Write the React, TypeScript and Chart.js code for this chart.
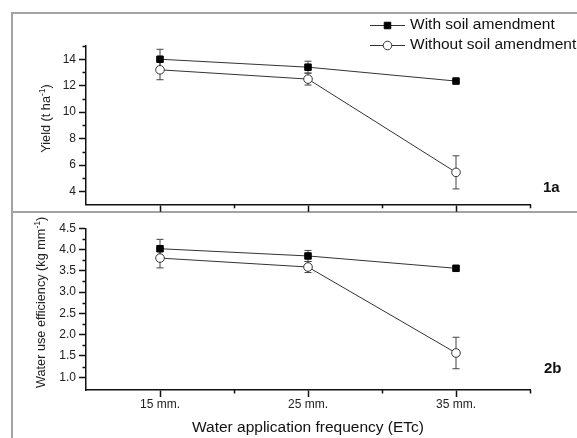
import React, { useEffect, useRef } from 'react';
import { Chart, registerables } from 'chart.js';

Chart.register(...registerables);

// ---------- data ----------
const categories = ['15 mm.', '25 mm.', '35 mm.'];
const xPositions = [15, 25, 35];
const xMinorTicks = [20, 30, 40];
const seriesNames = ['With soil amendment', 'Without soil amendment'];

const yieldWith = [14.0, 13.4, 12.35];
const yieldWithErr = [0.75, 0.45, 0];
const yieldWithout = [13.2, 12.5, 5.45];
const yieldWithoutErr = [0.75, 0.45, 1.25];
const yieldTicks = [4, 6, 8, 10, 12, 14];
const yieldTickLabels = ['4', '6', '8', '10', '12', '14'];
const yieldMinorTicks = [5, 7, 9, 11, 13, 15];

const wueWith = [4.02, 3.85, 3.56];
const wueWithErr = [0.22, 0.13, 0];
const wueWithout = [3.8, 3.59, 1.57];
const wueWithoutErr = [0.23, 0.13, 0.37];
const wueTicks = [1.0, 1.5, 2.0, 2.5, 3.0, 3.5, 4.0, 4.5];
const wueTickLabels = ['1.0', '1.5', '2.0', '2.5', '3.0', '3.5', '4.0', '4.5'];
const wueMinorTicks = [1.25, 1.75, 2.25, 2.75, 3.25, 3.75, 4.25];

const xTitle = 'Water application frequency (ETc)';
const yieldTitle = ['Yield (t ha', '-1', ')'];
const wueTitle = ['Water use efficiency (kg mm', '-1', ')'];

const FONT = "Arial, 'Liberation Sans', sans-serif";
const AXIS = '#111';
const LINE = '#333';
const FRAME = '#a3a3a3';

type PanelProps = {
  top: number;
  height: number;
  withVals: number[];
  withErr: number[];
  withoutVals: number[];
  withoutErr: number[];
  yMin: number;
  yMax: number;
  yTicks: number[];
  yTickLabels: string[];
  yMinor: number[];
  padTop: number;
  xHeight: number;
  showXLabels: boolean;
  yTitle: string[];
  yTitleX: number;
  yTitleY: number;
  panelLabel: string;
  panelLabelX: number;
  panelLabelY: number;
  showLegend: boolean;
};

function drawMarker(ctx: CanvasRenderingContext2D, ds: any, x: number, y: number) {
  ctx.save();
  ctx.lineWidth = ds.pointBorderWidth;
  ctx.strokeStyle = ds.pointBorderColor;
  ctx.fillStyle = ds.pointBackgroundColor;
  ctx.beginPath();
  if (ds.pointStyle === 'rect') {
    const s = ds.pointRadius * Math.SQRT1_2;
    ctx.rect(x - s, y - s, 2 * s, 2 * s);
  } else {
    ctx.arc(x, y, ds.pointRadius, 0, Math.PI * 2);
  }
  ctx.fill();
  ctx.stroke();
  ctx.restore();
}

function Panel(p: PanelProps) {
  const ref = useRef<HTMLCanvasElement>(null);
  useEffect(() => {
    if (!ref.current) return;

    const errorBars = {
      id: 'errorBars',
      beforeDatasetsDraw(chart: any) {
        const ctx = chart.ctx;
        const xs = chart.scales.x;
        const ys = chart.scales.y;
        ctx.save();
        ctx.strokeStyle = '#444';
        ctx.lineWidth = 1;
        chart.data.datasets.forEach((ds: any) => {
          ds.data.forEach((pt: any, i: number) => {
            const e = ds.errors[i];
            if (!e) return;
            const x = xs.getPixelForValue(pt.x);
            const y1 = ys.getPixelForValue(pt.y + e);
            const y2 = ys.getPixelForValue(pt.y - e);
            const cap = 3.5;
            ctx.beginPath();
            ctx.moveTo(x, y1);
            ctx.lineTo(x, y2);
            ctx.moveTo(x - cap, y1);
            ctx.lineTo(x + cap, y1);
            ctx.moveTo(x - cap, y2);
            ctx.lineTo(x + cap, y2);
            ctx.stroke();
          });
        });
        ctx.restore();
      },
    };

    const decorations = {
      id: 'decorations',
      afterDraw(chart: any) {
        const ctx = chart.ctx;
        const xs = chart.scales.x;
        const ys = chart.scales.y;
        const area = chart.chartArea;
        // minor ticks
        ctx.save();
        ctx.strokeStyle = AXIS;
        ctx.lineWidth = 1.5;
        ctx.beginPath();
        xMinorTicks.forEach((v) => {
          const x = Math.round(xs.getPixelForValue(v)) + 0.5;
          ctx.moveTo(x, area.bottom);
          ctx.lineTo(x, area.bottom + 3.5);
        });
        p.yMinor.forEach((v) => {
          const y = Math.round(ys.getPixelForValue(v)) + 0.5;
          ctx.moveTo(area.left, y);
          ctx.lineTo(area.left - 3.5, y);
        });
        ctx.stroke();
        ctx.restore();

        // y title with superscript
        ctx.save();
        ctx.fillStyle = '#222';
        const mainFont = `12.7px ${FONT}`;
        const supFont = `8.5px ${FONT}`;
        ctx.font = mainFont;
        const w0 = ctx.measureText(p.yTitle[0]).width;
        const w2 = ctx.measureText(p.yTitle[2]).width;
        ctx.font = supFont;
        const w1 = ctx.measureText(p.yTitle[1]).width;
        const total = w0 + w1 + w2;
        ctx.translate(p.yTitleX, p.yTitleY);
        ctx.rotate(-Math.PI / 2);
        ctx.textBaseline = 'alphabetic';
        ctx.textAlign = 'left';
        let cx = -total / 2;
        ctx.font = mainFont;
        ctx.fillText(p.yTitle[0], cx, 0);
        cx += w0;
        ctx.font = supFont;
        ctx.fillText(p.yTitle[1], cx, -5);
        cx += w1;
        ctx.font = mainFont;
        ctx.fillText(p.yTitle[2], cx, 0);
        ctx.restore();

        // panel label
        ctx.save();
        ctx.fillStyle = '#111';
        ctx.font = `bold 15px ${FONT}`;
        ctx.textBaseline = 'middle';
        ctx.textAlign = 'left';
        ctx.fillText(p.panelLabel, p.panelLabelX, p.panelLabelY);
        ctx.restore();

        // legend
        if (p.showLegend) {
          const rows = [25, 45];
          chart.data.datasets.forEach((ds: any, i: number) => {
            const y = rows[i];
            ctx.save();
            ctx.strokeStyle = ds.borderColor;
            ctx.lineWidth = 1;
            ctx.beginPath();
            ctx.moveTo(370, y + 0.5);
            ctx.lineTo(405, y + 0.5);
            ctx.stroke();
            ctx.restore();
            drawMarker(ctx, ds, 387.5, y + 0.5);
            ctx.save();
            ctx.fillStyle = '#111';
            ctx.font = `15.5px ${FONT}`;
            ctx.textBaseline = 'middle';
            ctx.textAlign = 'left';
            ctx.fillText(ds.label, 410, y);
            ctx.restore();
          });
        }
      },
    };

    const mk = (vals: number[]) => xPositions.map((x, i) => ({ x, y: vals[i] }));

    const chart = new Chart(ref.current, {
      type: 'scatter',
      data: {
        datasets: [
          {
            label: seriesNames[0],
            data: mk(p.withVals),
            errors: p.withErr,
            showLine: true,
            borderColor: LINE,
            borderWidth: 1,
            pointStyle: 'rect',
            pointRadius: 4.6,
            pointBackgroundColor: '#000',
            pointBorderColor: '#000',
            pointBorderWidth: 1,
            tension: 0,
          } as any,
          {
            label: seriesNames[1],
            data: mk(p.withoutVals),
            errors: p.withoutErr,
            showLine: true,
            borderColor: LINE,
            borderWidth: 1,
            pointStyle: 'circle',
            pointRadius: 4.3,
            pointBackgroundColor: '#fff',
            pointBorderColor: '#333',
            pointBorderWidth: 1,
            tension: 0,
          } as any,
        ],
      },
      options: {
        animation: false,
        responsive: false,
        devicePixelRatio: 1,
        events: [],
        layout: { padding: { left: 0, right: 47, top: p.padTop, bottom: 0 } },
        plugins: { legend: { display: false }, tooltip: { enabled: false } },
        scales: {
          x: {
            type: 'linear',
            min: 10,
            max: 40,
            afterBuildTicks: (s: any) => {
              s.ticks = xPositions.map((v) => ({ value: v }));
            },
            afterFit: (s: any) => {
              s.height = p.xHeight;
            },
            grid: { drawOnChartArea: false, drawTicks: true, tickLength: 7, tickColor: AXIS, tickWidth: 1.5 },
            border: { display: true, color: AXIS, width: 1.5 },
            ticks: {
              display: p.showXLabels,
              autoSkip: false,
              maxRotation: 0,
              padding: 0,
              color: '#222',
              font: { family: FONT, size: 12 },
              callback: (_v: any, i: number) => categories[i],
            },
            title: {
              display: p.showXLabels,
              text: xTitle,
              color: '#111',
              font: { family: FONT, size: 15.5 },
              padding: { top: 0, bottom: 1.4 },
            },
          },
          y: {
            type: 'linear',
            min: p.yMin,
            max: p.yMax,
            afterBuildTicks: (s: any) => {
              s.ticks = p.yTicks.map((v) => ({ value: v }));
            },
            afterFit: (s: any) => {
              s.width = 86;
            },
            grid: { drawOnChartArea: false, drawTicks: true, tickLength: 7, tickColor: AXIS, tickWidth: 1.5 },
            border: { display: true, color: AXIS, width: 1.5 },
            ticks: {
              autoSkip: false,
              padding: 3,
              color: '#222',
              font: { family: FONT, size: 12 },
              callback: (_v: any, i: number) => p.yTickLabels[i],
            },
          },
        },
      } as any,
      plugins: [errorBars, decorations],
    });
    return () => chart.destroy();
  }, []);
  return (
    <canvas
      ref={ref}
      width={577}
      height={p.height}
      style={{ position: 'absolute', left: 0, top: p.top, width: 577, height: p.height }}
    />
  );
}

export default function App() {
  return (
    <div
      style={{
        position: 'fixed',
        left: 0,
        top: 0,
        width: 577,
        height: 438,
        background: '#fff',
        overflow: 'hidden',
      }}
    >
      <div
        style={{
          position: 'absolute',
          left: 11,
          top: 12,
          width: 600,
          height: 450,
          borderTop: `2px solid ${FRAME}`,
          borderLeft: `2px solid ${FRAME}`,
        }}
      />
      <div style={{ position: 'absolute', left: 11, top: 211, width: 600, height: 2, background: FRAME }} />
      <Panel
        top={0}
        height={215}
        withVals={yieldWith}
        withErr={yieldWithErr}
        withoutVals={yieldWithout}
        withoutErr={yieldWithoutErr}
        yMin={3}
        yMax={15}
        yTicks={yieldTicks}
        yTickLabels={yieldTickLabels}
        yMinor={yieldMinorTicks}
        padTop={46}
        xHeight={9}
        showXLabels={false}
        yTitle={yieldTitle}
        yTitleX={50}
        yTitleY={118.5}
        panelLabel="1a"
        panelLabelX={543}
        panelLabelY={187.5}
        showLegend={true}
      />
      <Panel
        top={212}
        height={226}
        withVals={wueWith}
        withErr={wueWithErr}
        withoutVals={wueWithout}
        withoutErr={wueWithoutErr}
        yMin={0.7}
        yMax={4.5}
        yTicks={wueTicks}
        yTickLabels={wueTickLabels}
        yMinor={wueMinorTicks}
        padTop={16.3}
        xHeight={48}
        showXLabels={true}
        yTitle={wueTitle}
        yTitleX={44.5}
        yTitleY={90.4}
        panelLabel="2b"
        panelLabelX={544}
        panelLabelY={156.8}
        showLegend={false}
      />
    </div>
  );
}
